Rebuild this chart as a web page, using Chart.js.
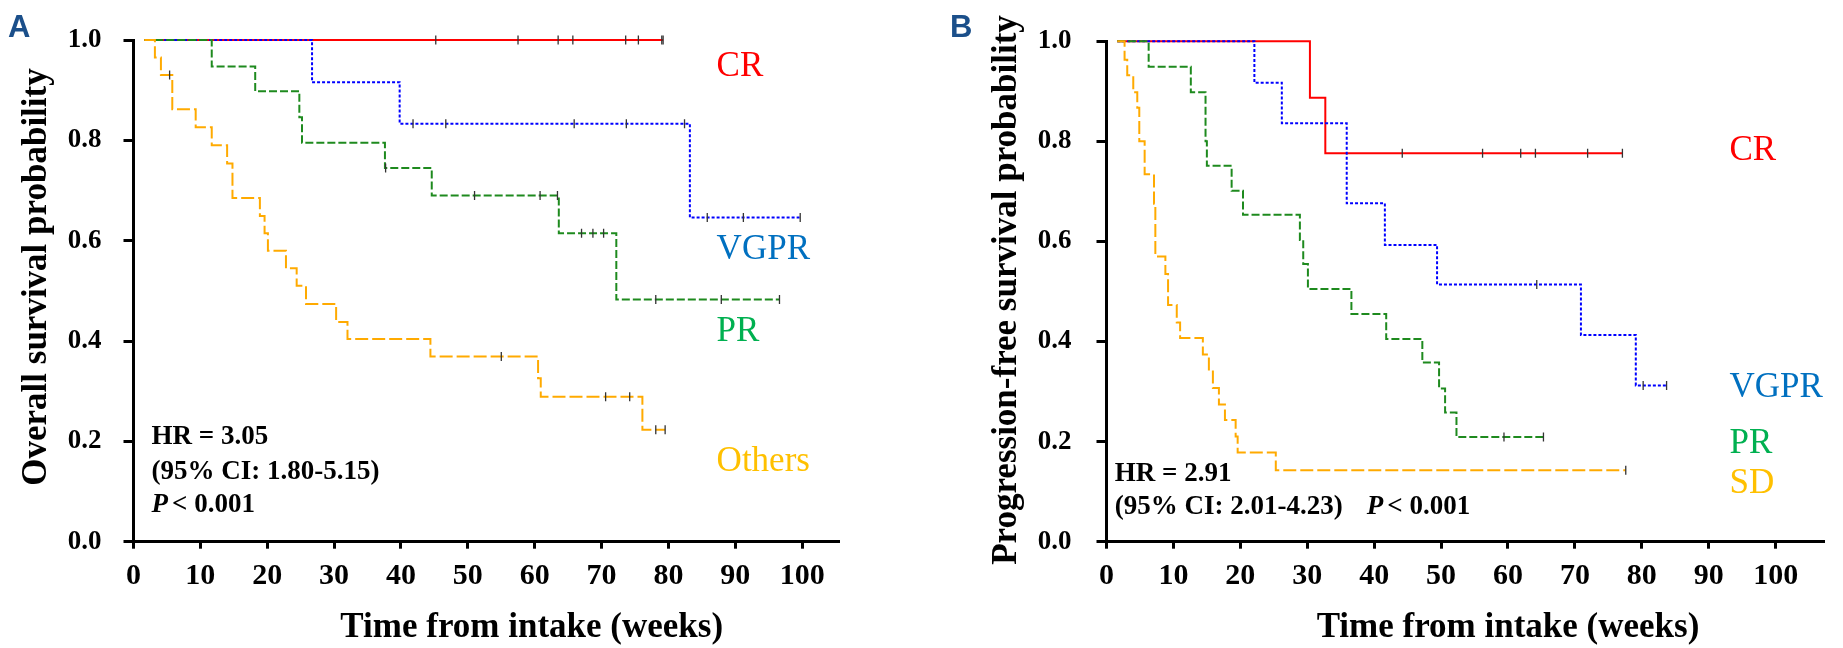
<!DOCTYPE html>
<html>
<head>
<meta charset="utf-8">
<script src="https://cdn.jsdelivr.net/npm/chart.js@4.4.1/dist/chart.umd.min.js"></script>
<style>
  html, body { margin: 0; padding: 0; background: #fff; }
  #wrap { position: relative; width: 1843px; height: 648px; }
  #osWrap { position: absolute; left: 0; top: 0; width: 921px; height: 648px; }
  #pfsWrap { position: absolute; left: 921px; top: 0; width: 922px; height: 648px; }
</style>
</head>
<body>
<div id="wrap">
  <div id="osWrap"><canvas id="osChart"></canvas></div>
  <div id="pfsWrap"><canvas id="pfsChart"></canvas></div>
</div>
<script>
// ---- panel A: overall survival (weeks, probability after each event) ----
const osCrTime = [1.6, 79.2];
const osCrSurv = [1.0, 1.0];
const osCrCensor = [45.2, 57.5, 63.5, 65.7, 73.6, 75.5, 79.0, 79.2];

const osVgprTime = [1.6, 26.7, 39.8, 83.2, 99.7];
const osVgprSurv = [1.0, 0.916, 0.833, 0.646, 0.646];
const osVgprCensor = [41.8, 46.7, 65.9, 73.7, 82.4, 85.8, 91.2, 99.7];

const osPrTime = [1.6, 11.7, 18.2, 24.8, 25.2, 37.6, 44.6, 63.6, 72.2, 96.6];
const osPrSurv = [1.0, 0.947, 0.898, 0.846, 0.795, 0.745, 0.690, 0.615, 0.483, 0.483];
const osPrCensor = [37.7, 51.0, 60.8, 63.4, 67.0, 68.7, 70.3, 78.1, 87.9, 96.6];

const osOthTime = [1.6, 3.2, 4.1, 5.8, 9.3, 11.7, 14.0, 14.8, 18.9, 19.6, 20.1, 22.8,
  24.4, 25.8, 30.3, 32.0, 44.4, 60.5, 60.9, 76.1, 79.5];
const osOthSurv = [1.0, 0.965, 0.930, 0.862, 0.826, 0.790, 0.754, 0.685, 0.649, 0.615, 0.580, 0.545,
  0.510, 0.474, 0.438, 0.404, 0.369, 0.326, 0.289, 0.223, 0.223];
const osOthCensor = [5.4, 55.0, 70.6, 74.2, 78.1, 79.5];

// ---- panel B: progression-free survival ----
const pfsCrTime = [1.6, 30.4, 32.7, 77.1];
const pfsCrSurv = [1.0, 0.887, 0.776, 0.776];
const pfsCrCensor = [44.2, 56.2, 61.9, 64.1, 71.9, 77.1];

const pfsVgprTime = [1.6, 22.1, 26.2, 35.9, 41.6, 49.4, 70.9, 79.1, 83.7];
const pfsVgprSurv = [1.0, 0.917, 0.836, 0.676, 0.593, 0.514, 0.413, 0.312, 0.312];
const pfsVgprCensor = [64.3, 80.2, 83.7];

const pfsPrTime = [1.6, 6.3, 12.6, 14.8, 15.0, 18.7, 20.4, 28.9, 29.4, 30.1, 36.6, 41.8,
  47.2, 49.7, 50.6, 52.3, 65.3];
const pfsPrSurv = [1.0, 0.949, 0.898, 0.800, 0.751, 0.701, 0.653, 0.603, 0.555, 0.505, 0.455, 0.405,
  0.358, 0.306, 0.258, 0.209, 0.209];
const pfsPrCensor = [59.4, 65.3];

const pfsSdTime = [1.6, 2.7, 3.1, 4.0, 4.6, 4.9, 5.7, 7.1, 7.3, 8.8, 9.2, 10.5, 11.0,
  14.4, 15.3, 15.9, 16.8, 17.7, 19.3, 19.6, 25.3, 77.6];
const pfsSdSurv = [1.0, 0.963, 0.932, 0.898, 0.867, 0.800, 0.734, 0.675, 0.570, 0.535, 0.473, 0.438, 0.407,
  0.374, 0.340, 0.307, 0.274, 0.243, 0.210, 0.178, 0.143, 0.143];
const pfsSdCensor = [77.6];

const yTicks = [0, 0.2, 0.4, 0.6, 0.8, 1.0];
const xTickStep = 10;

Chart.defaults.font.family = "'Liberation Serif', 'Times New Roman', serif";
Chart.defaults.color = "#000";

const SERIF = "'Liberation Serif', 'Times New Roman', serif";
const COLORS = {
  red: "#ff0000",
  blue: "#0000ff",
  green: "#1e8a1e",
  orange: "#ffaa00"
};

function kmPoints(times, surv) {
  return times.map((t, i) => ({ x: t, y: surv[i] }));
}

// survival value of the curve at a censoring time
function censorPoints(times, surv, censor) {
  return censor.map(function (c) {
    let s = surv[0];
    for (let i = 0; i < times.length; i++) {
      if (times[i] <= c) s = surv[i];
    }
    return { x: c, y: s };
  });
}

function curve(times, surv, color, dash) {
  return {
    type: "line",
    data: kmPoints(times, surv),
    stepped: "before",
    borderColor: color,
    borderWidth: 2,
    borderDash: dash,
    pointRadius: 0,
    fill: false,
    clip: 10,
    order: 2
  };
}

function censors(times, surv, censor) {
  return {
    type: "scatter",
    data: censorPoints(times, surv, censor),
    pointStyle: "line",
    rotation: 90,
    radius: 4.5,
    borderColor: "#333",
    borderWidth: 1.3,
    backgroundColor: "#333",
    clip: 10,
    order: 1
  };
}

const panelText = {
  id: "panelText",
  afterDraw(chart, args, opts) {
    const ctx = chart.ctx;
    const xs = chart.scales.x;
    const ys = chart.scales.y;
    ctx.save();

    ctx.font = "bold 31px 'Liberation Sans', Arial, sans-serif";
    ctx.fillStyle = "#1b4f8a";
    ctx.textAlign = "left";
    ctx.textBaseline = "alphabetic";
    ctx.fillText(opts.letter, opts.letterX, 37);

    ctx.fillStyle = "#000";
    ctx.font = "bold 35px " + SERIF;
    ctx.textAlign = "center";
    ctx.textBaseline = "middle";
    ctx.fillText("Time from intake (weeks)", opts.xTitleX, 628);

    ctx.save();
    ctx.translate(opts.yTitleX, opts.yTitleY);
    ctx.rotate(-Math.PI / 2);
    ctx.fillText(opts.yTitle, 0, 0);
    ctx.restore();

    ctx.textAlign = "left";
    ctx.font = "35px " + SERIF;
    opts.labels.forEach(function (l) {
      ctx.fillStyle = l.color;
      ctx.fillText(l.text, xs.getPixelForValue(l.x), ys.getPixelForValue(l.y));
    });

    ctx.fillStyle = "#000";
    opts.stats.forEach(function (s) {
      let px = xs.getPixelForValue(s.x);
      const py = ys.getPixelForValue(s.y);
      s.parts.forEach(function (p) {
        ctx.font = (p.italic ? "italic " : "") + "bold 27px " + SERIF;
        ctx.fillText(p.text, px, py);
        px += ctx.measureText(p.text).width + (p.gap || 0);
      });
    });
    ctx.restore();
  }
};

function buildScales(xMax, yWidth, yPad) {
  return {
    x: {
      type: "linear",
      min: 0,
      max: xMax,
      afterFit: function (s) { s.height = 106.3; },
      ticks: {
        stepSize: xTickStep,
        includeBounds: false,
        autoSkip: false,
        maxRotation: 0,
        padding: 10,
        color: "#000",
        font: { size: 30, weight: "bold" }
      },
      grid: { drawOnChartArea: false, drawTicks: true, tickLength: 7, tickWidth: 3, tickColor: "#000" },
      border: { display: true, color: "#000", width: 3 }
    },
    y: {
      type: "linear",
      min: 0,
      max: 1,
      afterFit: function (s) { s.width = yWidth; },
      afterBuildTicks: function (s) { s.ticks = yTicks.map(v => ({ value: v })); },
      ticks: {
        padding: yPad,
        color: "#000",
        font: { size: 27, weight: "bold" },
        callback: function (val) { return Number(val).toFixed(1); }
      },
      grid: { drawOnChartArea: false, drawTicks: true, tickLength: 10, tickWidth: 3, tickColor: "#000" },
      border: { display: true, color: "#000", width: 3 }
    }
  };
}

function makeChart(id, datasets, scales, padRight, textOpts) {
  new Chart(document.getElementById(id).getContext("2d"), {
    type: "line",
    data: { datasets: datasets },
    options: {
      responsive: true,
      maintainAspectRatio: false,
      animation: false,
      layout: { padding: { top: 40, right: padRight, bottom: 0, left: 0 } },
      scales: scales,
      plugins: {
        legend: { display: false },
        tooltip: { enabled: false },
        panelText: textOpts
      }
    },
    plugins: [panelText]
  });
}

makeChart("osChart", [
  curve(osOthTime, osOthSurv, COLORS.orange, [13, 4]),
  curve(osPrTime, osPrSurv, COLORS.green, [8, 3]),
  curve(osVgprTime, osVgprSurv, COLORS.blue, [3, 2]),
  curve(osCrTime, osCrSurv, COLORS.red, []),
  censors(osOthTime, osOthSurv, osOthCensor),
  censors(osPrTime, osPrSurv, osPrCensor),
  censors(osVgprTime, osVgprSurv, osVgprCensor),
  censors(osCrTime, osCrSurv, osCrCensor)
], buildScales(105.5, 133.5, 22), 82, {
  letter: "A",
  letterX: 8,
  xTitleX: 531.7,
  yTitleX: 37,
  yTitleY: 277,
  yTitle: "Overall survival probability",
  labels: [
    { text: "CR", color: "#ff0000", x: 87.2, y: 0.946 },
    { text: "VGPR", color: "#0070c0", x: 87.2, y: 0.581 },
    { text: "PR", color: "#00b050", x: 87.2, y: 0.419 },
    { text: "Others", color: "#ffc000", x: 87.2, y: 0.159 }
  ],
  stats: [
    { x: 2.7, y: 0.209, parts: [{ text: "HR = 3.05" }] },
    { x: 2.7, y: 0.1395, parts: [{ text: "(95% CI: 1.80-5.15)" }] },
    { x: 2.7, y: 0.073, parts: [{ text: "P", italic: true, gap: 4 }, { text: "< 0.001" }] }
  ]
});

makeChart("pfsChart", [
  curve(pfsSdTime, pfsSdSurv, COLORS.orange, [13, 4]),
  curve(pfsPrTime, pfsPrSurv, COLORS.green, [8, 3]),
  curve(pfsVgprTime, pfsVgprSurv, COLORS.blue, [3, 2]),
  curve(pfsCrTime, pfsCrSurv, COLORS.red, []),
  censors(pfsSdTime, pfsSdSurv, pfsSdCensor),
  censors(pfsPrTime, pfsPrSurv, pfsPrCensor),
  censors(pfsVgprTime, pfsVgprSurv, pfsVgprCensor),
  censors(pfsCrTime, pfsCrSurv, pfsCrCensor)
], buildScales(107.3, 185.5, 25), 18.5, {
  letter: "B",
  letterX: 29,
  xTitleX: 587,
  yTitleX: 85.7,
  yTitleY: 290,
  yTitle: "Progression-free survival probability",
  labels: [
    { text: "CR", color: "#ff0000", x: 93.1, y: 0.781 },
    { text: "VGPR", color: "#0070c0", x: 93.1, y: 0.308 },
    { text: "PR", color: "#00b050", x: 93.1, y: 0.196 },
    { text: "SD", color: "#ffc000", x: 93.1, y: 0.116 }
  ],
  stats: [
    { x: 1.25, y: 0.136, parts: [{ text: "HR = 2.91" }] },
    { x: 1.25, y: 0.070, parts: [{ text: "(95% CI: 2.01-4.23)" }] },
    { x: 38.9, y: 0.070, parts: [{ text: "P", italic: true, gap: 4 }, { text: "< 0.001" }] }
  ]
});
</script>
</body>
</html>
